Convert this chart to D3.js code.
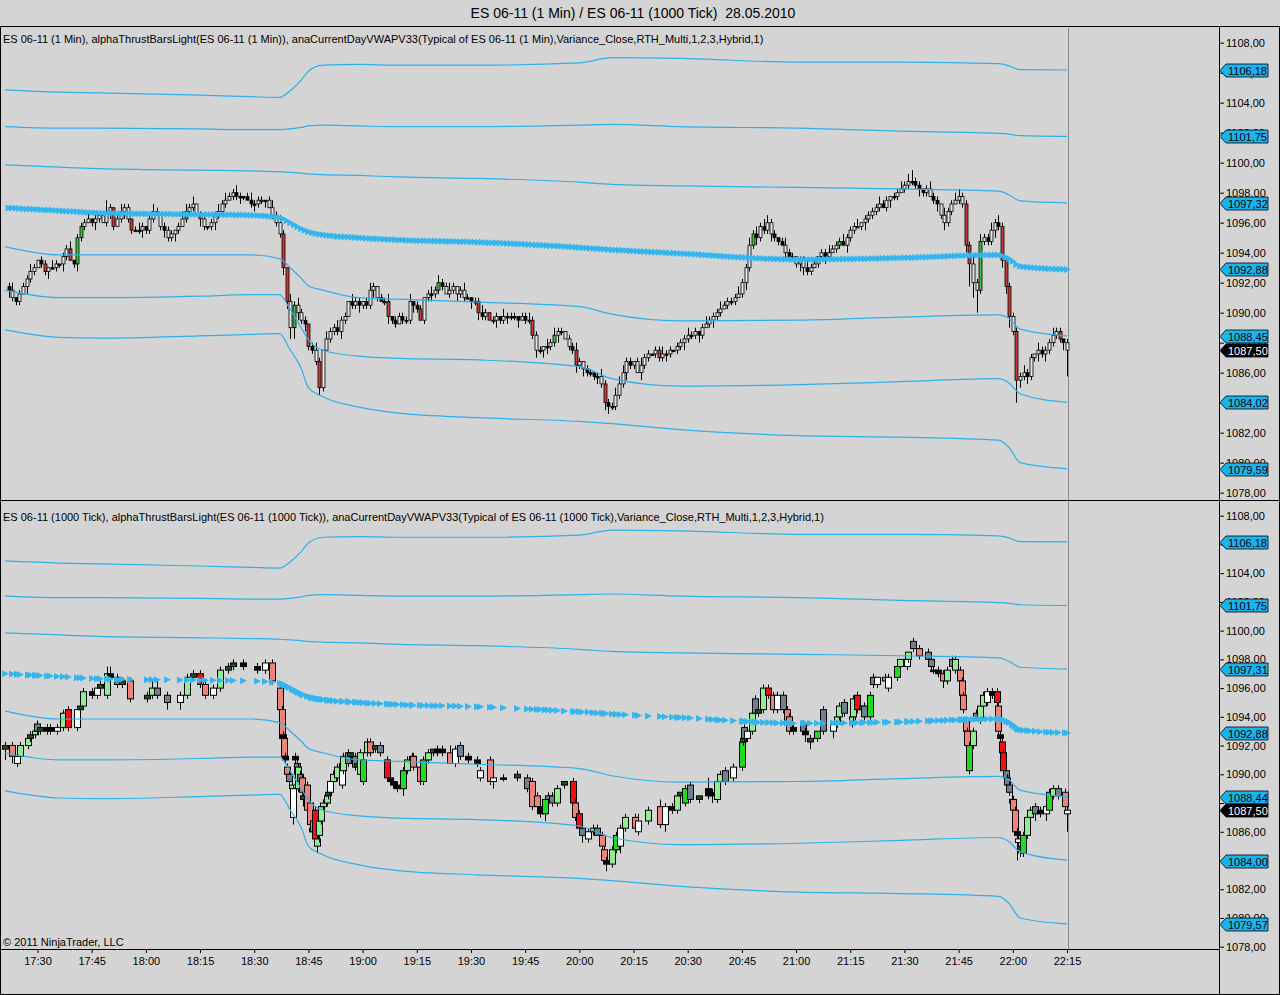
<!DOCTYPE html>
<html>
<head>
<meta charset="utf-8">
<script src="https://cdn.jsdelivr.net/npm/d3@7"></script>
<style>
  body { margin: 0; background: #d4d4d4; overflow: hidden; }
  svg { display: block; }
  svg text { font-family: "Liberation Sans", Arial, sans-serif; }
</style>
</head>
<body>
<div id="chart"></div>
<script>
// ---- chart texts ----
const titleText = "ES 06-11 (1 Min) / ES 06-11 (1000 Tick)  28.05.2010";
const topLabel = "ES 06-11 (1 Min), alphaThrustBarsLight(ES 06-11 (1 Min)), anaCurrentDayVWAPV33(Typical of ES 06-11 (1 Min),Variance_Close,RTH_Multi,1,2,3,Hybrid,1)";
const bottomLabel = "ES 06-11 (1000 Tick), alphaThrustBarsLight(ES 06-11 (1000 Tick)), anaCurrentDayVWAPV33(Typical of ES 06-11 (1000 Tick),Variance_Close,RTH_Multi,1,2,3,Hybrid,1)";
const copyright = "© 2011 NinjaTrader, LLC";

// ---- axis ticks ----
const timeTicks = ["17:30", "17:45", "18:00", "18:15", "18:30", "18:45", "19:00", "19:15", "19:30", "19:45",
  "20:00", "20:15", "20:30", "20:45", "21:00", "21:15", "21:30", "21:45", "22:00", "22:15"];
const priceTicks = [1078, 1080, 1082, 1084, 1086, 1088, 1090, 1092, 1094, 1096, 1098, 1100, 1102, 1104, 1106, 1108];

// ---- 1 minute bars (one close per minute from 17:22) ----
const minuteStart = "17:22";
const minuteFirstOpen = 1091.75;
const minuteClose = [
  1091.5, 1091.0, 1090.75, 1091.25, 1091.75, 1092.25, 1092.75, 1093.0, 1093.5, 1093.25,
  1092.75, 1093.0, 1093.0, 1093.25, 1093.25, 1093.75, 1094.25, 1093.5, 1093.25, 1095.0,
  1095.75, 1096.0, 1096.25, 1096.0, 1096.25, 1096.5, 1096.0, 1096.75, 1097.0, 1095.75,
  1096.25, 1096.75, 1097.0, 1096.25, 1095.5, 1095.5, 1095.5, 1095.75, 1095.5, 1096.25,
  1096.75, 1096.5, 1095.75, 1095.5, 1095.0, 1095.25, 1095.5, 1095.75, 1096.25, 1096.75,
  1097.0, 1097.25, 1096.5, 1096.25, 1095.75, 1095.75, 1096.0, 1096.5, 1096.75, 1097.25,
  1097.5, 1097.75, 1098.0, 1097.75, 1097.75, 1097.75, 1097.5, 1097.25, 1097.25, 1097.5,
  1097.5, 1097.5, 1097.0, 1096.5, 1096.0, 1095.25, 1093.0, 1090.75, 1089.0, 1090.5,
  1090.0, 1089.5, 1089.25, 1087.75, 1087.5, 1086.75, 1085.0, 1087.5, 1088.25, 1088.75,
  1089.0, 1088.75, 1089.5, 1089.75, 1090.75, 1090.5, 1090.75, 1090.5, 1090.75, 1090.5,
  1091.5, 1091.75, 1091.0, 1090.75, 1090.75, 1089.75, 1089.5, 1089.25, 1089.75, 1089.5,
  1089.5, 1090.75, 1090.5, 1090.25, 1089.5, 1091.0, 1091.25, 1091.25, 1091.5, 1092.0,
  1091.75, 1091.25, 1091.5, 1091.75, 1091.25, 1091.5, 1091.0, 1091.0, 1090.75, 1090.75,
  1090.0, 1089.75, 1090.0, 1089.5, 1089.5, 1089.75, 1089.5, 1089.75, 1089.75, 1089.75,
  1089.75, 1089.5, 1089.75, 1089.5, 1089.5, 1088.5, 1087.5, 1087.5, 1087.75, 1087.75,
  1088.0, 1088.5, 1088.75, 1088.75, 1088.25, 1087.75, 1087.5, 1086.5, 1086.75, 1086.25,
  1086.0, 1086.0, 1085.75, 1085.75, 1085.25, 1084.0, 1083.75, 1083.75, 1084.5, 1085.25,
  1086.0, 1086.75, 1086.5, 1086.75, 1086.0, 1086.5, 1087.0, 1087.25, 1087.25, 1087.5,
  1087.0, 1087.25, 1087.25, 1087.5, 1087.5, 1087.75, 1088.0, 1088.25, 1088.5, 1088.5,
  1088.75, 1088.5, 1089.0, 1089.25, 1089.5, 1089.75, 1090.0, 1090.25, 1090.5, 1090.75,
  1090.75, 1091.0, 1091.25, 1092.0, 1093.0, 1094.5, 1095.25, 1095.0, 1095.75, 1095.5,
  1096.0, 1095.25, 1095.0, 1094.75, 1094.5, 1094.0, 1093.75, 1093.75, 1093.25, 1093.5,
  1093.0, 1092.75, 1093.0, 1093.25, 1093.75, 1094.0, 1093.75, 1094.0, 1094.25, 1094.5,
  1094.75, 1094.5, 1095.0, 1095.5, 1095.75, 1095.75, 1096.0, 1096.25, 1096.5, 1096.75,
  1097.0, 1097.25, 1097.0, 1097.5, 1097.75, 1097.75, 1098.0, 1098.25, 1098.5, 1098.75,
  1098.75, 1098.5, 1098.25, 1098.0, 1098.25, 1097.75, 1097.5, 1097.25, 1096.5, 1096.0,
  1096.75, 1097.25, 1097.5, 1097.75, 1097.25, 1094.5, 1093.25, 1092.0, 1091.5, 1094.75,
  1095.0, 1094.75, 1095.5, 1096.0, 1095.75, 1093.5, 1091.75, 1089.75, 1088.75, 1085.5,
  1085.75, 1086.0, 1085.75, 1087.0, 1087.25, 1087.5, 1087.25, 1087.5, 1088.0, 1088.5,
  1088.75, 1088.25, 1088.0, 1087.5
];
// wick lengths beyond the body, in ticks of 0.25, one digit per minute
const minuteUpperWick = [
  "1201112101", "1021011201", "1120101310", "1211012101", "2101110122", "1201101121",
  "2112101211", "1012121021", "2110121021", "1211021101", "2101120111", "1201101212",
  "1121012101", "1210110211", "1011211102", "1211011210", "1101211122", "2110121101",
  "1211011121", "1012111211", "1121121212", "2110121101", "1211011211", "1211120111",
  "1211011212", "3110121102", "1122111212", "1121211111", "1211021112", "1101"
].join("");
const minuteLowerWick = [
  "2111021101", "1201121012", "1101210121", "0121101211", "1012112101", "1102111211",
  "1011210121", "1201112233", "2121112101", "1121011211", "1210121101", "1121011211",
  "1011211021", "2110121121", "1201112122", "1121011212", "1112122111", "1211021101",
  "1121011211", "1210121101", "1101211211", "1211021112", "2110112101", "1021101211",
  "1101211011", "1121101212", "1101126461", "1112122316", "2121121211", "1127"
].join("");
const minuteRedBars = [10, 17, 29, 34, 53, 76, 77, 83, 86, 105, 114, 130, 133, 145, 157, 165, 180, 265, 266, 275, 276, 277, 279, 291];
const minuteGreenBars = [19, 20, 49, 79, 119, 151, 206, 230, 269];

// ---- 1000 tick bars: time, open, high, low, close, colour code ----
const tickBars = [
  ["17:21:00", 1091.75, 1092.25, 1091.0, 1092.0, "dg"],
  ["17:22:56", 1092.0, 1092.25, 1090.75, 1091.25, "s"],
  ["17:24:19", 1090.75, 1091.5, 1090.5, 1091.25, "w"],
  ["17:25:10", 1091.25, 1092.25, 1091.0, 1092.0, "lg"],
  ["17:27:22", 1092.0, 1092.75, 1091.75, 1092.5, "lg"],
  ["17:27:55", 1092.5, 1093.0, 1092.25, 1092.75, "dg"],
  ["17:29:19", 1092.75, 1093.25, 1092.5, 1093.0, "lg"],
  ["17:29:52", 1093.5, 1093.75, 1092.75, 1093.0, "gy"],
  ["17:30:41", 1093.0, 1093.5, 1092.75, 1093.25, "dg"],
  ["17:32:38", 1093.25, 1093.5, 1092.75, 1093.0, "k"],
  ["17:33:28", 1093.25, 1093.5, 1092.75, 1093.0, "k"],
  ["17:35:24", 1093.0, 1093.5, 1092.75, 1093.25, "w"],
  ["17:37:04", 1093.25, 1094.5, 1093.0, 1094.25, "lg"],
  ["17:38:27", 1094.5, 1094.75, 1093.0, 1093.25, "r"],
  ["17:40:56", 1093.25, 1094.75, 1093.0, 1094.5, "w"],
  ["17:41:46", 1094.5, 1094.75, 1094.25, 1094.75, "dg"],
  ["17:42:36", 1094.75, 1096.0, 1094.5, 1095.75, "lg"],
  ["17:45:05", 1095.75, 1096.0, 1095.25, 1095.5, "k"],
  ["17:46:28", 1095.5, 1096.25, 1095.25, 1096.0, "w"],
  ["17:47:18", 1096.0, 1096.5, 1095.75, 1096.25, "dg"],
  ["17:49:14", 1095.5, 1097.5, 1095.25, 1097.0, "lg"],
  ["17:50:04", 1097.0, 1097.5, 1096.5, 1096.75, "k"],
  ["17:52:01", 1096.75, 1097.0, 1096.0, 1096.25, "gy"],
  ["17:53:24", 1096.25, 1096.75, 1096.0, 1096.5, "dg"],
  ["17:55:37", 1096.5, 1096.75, 1095.0, 1095.25, "s"],
  ["18:00:19", 1095.25, 1095.75, 1095.0, 1095.5, "dg"],
  ["18:01:42", 1095.5, 1096.5, 1095.25, 1096.0, "lg"],
  ["18:03:05", 1096.0, 1096.5, 1095.25, 1095.5, "gy"],
  ["18:05:51", 1095.5, 1095.75, 1094.5, 1095.0, "gy"],
  ["18:09:27", 1095.0, 1095.75, 1094.5, 1095.5, "w"],
  ["18:11:23", 1095.5, 1097.0, 1095.25, 1096.75, "lg"],
  ["18:13:03", 1096.75, 1097.25, 1096.5, 1097.0, "dg"],
  ["18:14:59", 1097.0, 1097.25, 1096.0, 1096.25, "r"],
  ["18:16:23", 1096.25, 1096.5, 1095.25, 1095.5, "s"],
  ["18:18:35", 1095.5, 1096.25, 1095.25, 1096.0, "w"],
  ["18:20:32", 1096.0, 1097.5, 1095.75, 1097.25, "lg"],
  ["18:22:45", 1097.25, 1097.75, 1097.0, 1097.5, "dg"],
  ["18:24:08", 1097.5, 1098.0, 1097.25, 1097.75, "dg"],
  ["18:26:54", 1097.75, 1098.0, 1097.25, 1097.5, "k"],
  ["18:30:47", 1097.5, 1097.75, 1097.0, 1097.25, "k"],
  ["18:32:59", 1097.25, 1098.0, 1097.0, 1097.75, "w"],
  ["18:34:56", 1097.75, 1098.0, 1096.25, 1096.5, "s"],
  ["18:37:09", 1096.0, 1096.25, 1094.25, 1094.5, "s"],
  ["18:37:42", 1094.5, 1094.75, 1092.25, 1092.5, "s"],
  ["18:37:59", 1092.75, 1093.0, 1092.25, 1092.5, "k"],
  ["18:38:15", 1092.5, 1092.75, 1091.0, 1091.25, "s"],
  ["18:38:32", 1091.25, 1091.5, 1090.75, 1091.0, "k"],
  ["18:39:05", 1090.5, 1090.75, 1089.75, 1090.0, "s"],
  ["18:39:38", 1090.0, 1090.25, 1089.25, 1089.5, "gy"],
  ["18:40:28", 1089.0, 1089.5, 1088.5, 1089.25, "lg"],
  ["18:40:45", 1087.0, 1089.25, 1086.5, 1089.0, "w"],
  ["18:41:18", 1091.25, 1091.5, 1090.5, 1091.0, "k"],
  ["18:41:51", 1090.75, 1091.0, 1089.75, 1090.0, "gy"],
  ["18:42:08", 1089.0, 1090.75, 1088.75, 1090.5, "lg"],
  ["18:42:41", 1090.0, 1090.25, 1089.25, 1089.5, "gy"],
  ["18:43:14", 1089.75, 1090.0, 1088.5, 1088.75, "s"],
  ["18:43:31", 1088.5, 1088.75, 1087.75, 1088.25, "dg"],
  ["18:44:37", 1089.25, 1089.5, 1087.25, 1087.5, "s"],
  ["18:45:27", 1088.0, 1088.25, 1086.0, 1086.5, "s"],
  ["18:46:00", 1086.25, 1086.5, 1085.75, 1086.0, "k"],
  ["18:46:17", 1086.75, 1087.0, 1085.75, 1086.0, "s"],
  ["18:46:50", 1087.5, 1087.75, 1085.0, 1085.5, "r"],
  ["18:47:23", 1085.0, 1085.75, 1084.5, 1085.5, "lg"],
  ["18:47:56", 1085.75, 1087.0, 1085.25, 1086.75, "lg"],
  ["18:48:30", 1086.75, 1088.0, 1086.5, 1087.75, "lg"],
  ["18:49:03", 1087.75, 1088.25, 1087.5, 1088.0, "lg"],
  ["18:50:10", 1088.0, 1088.75, 1087.75, 1088.5, "lg"],
  ["18:50:26", 1088.5, 1089.0, 1088.25, 1088.75, "dg"],
  ["18:50:59", 1088.75, 1089.75, 1088.5, 1089.5, "w"],
  ["18:51:49", 1089.5, 1090.25, 1089.0, 1090.0, "lg"],
  ["18:52:56", 1089.75, 1090.75, 1089.5, 1090.5, "lg"],
  ["18:54:19", 1089.25, 1091.0, 1089.0, 1090.75, "w"],
  ["18:54:35", 1090.25, 1091.5, 1090.0, 1091.25, "lg"],
  ["18:55:58", 1091.5, 1091.75, 1090.5, 1090.75, "gy"],
  ["18:56:32", 1091.25, 1091.5, 1091.0, 1091.5, "dg"],
  ["18:57:55", 1091.25, 1091.5, 1090.25, 1090.5, "gy"],
  ["18:58:28", 1090.5, 1090.75, 1090.25, 1090.75, "dg"],
  ["18:59:17", 1090.0, 1091.75, 1089.75, 1091.5, "lg"],
  ["19:00:07", 1089.5, 1091.25, 1089.25, 1091.0, "g"],
  ["19:01:14", 1091.5, 1092.5, 1091.25, 1092.25, "lg"],
  ["19:02:04", 1092.25, 1092.5, 1091.25, 1091.5, "s"],
  ["19:03:26", 1091.75, 1092.0, 1091.5, 1092.0, "dg"],
  ["19:04:50", 1092.0, 1092.25, 1091.25, 1091.5, "gy"],
  ["19:06:46", 1091.0, 1091.25, 1089.5, 1089.75, "r"],
  ["19:07:36", 1089.75, 1090.0, 1089.25, 1089.5, "k"],
  ["19:08:26", 1089.5, 1089.75, 1089.0, 1089.25, "k"],
  ["19:09:32", 1089.25, 1089.5, 1088.75, 1089.0, "k"],
  ["19:11:12", 1089.0, 1090.5, 1088.5, 1090.25, "g"],
  ["19:12:19", 1090.25, 1091.25, 1090.0, 1091.0, "lg"],
  ["19:13:41", 1091.0, 1091.5, 1090.75, 1091.25, "lg"],
  ["19:13:58", 1091.25, 1091.5, 1090.25, 1090.5, "s"],
  ["19:15:55", 1090.5, 1090.75, 1089.25, 1089.5, "s"],
  ["19:16:44", 1089.5, 1091.25, 1089.25, 1091.0, "g"],
  ["19:18:07", 1091.0, 1091.75, 1090.75, 1091.5, "lg"],
  ["19:19:31", 1091.5, 1091.75, 1091.25, 1091.75, "dg"],
  ["19:20:37", 1091.75, 1092.0, 1091.25, 1091.5, "k"],
  ["19:22:00", 1091.75, 1092.0, 1091.25, 1091.5, "k"],
  ["19:24:13", 1091.5, 1092.0, 1090.75, 1090.75, "s"],
  ["19:25:36", 1090.75, 1092.0, 1090.5, 1091.75, "w"],
  ["19:26:59", 1092.0, 1092.25, 1091.0, 1091.25, "gy"],
  ["19:29:12", 1091.25, 1091.5, 1090.75, 1091.0, "k"],
  ["19:31:41", 1091.0, 1091.25, 1090.5, 1090.75, "k"],
  ["19:32:31", 1089.75, 1090.5, 1089.5, 1090.25, "w"],
  ["19:35:17", 1091.0, 1091.25, 1089.25, 1089.5, "s"],
  ["19:36:07", 1089.5, 1090.0, 1089.0, 1089.75, "w"],
  ["19:38:53", 1089.75, 1090.0, 1089.5, 1089.75, "k"],
  ["19:42:46", 1089.75, 1090.25, 1089.5, 1090.0, "dg"],
  ["19:45:32", 1089.75, 1090.0, 1088.75, 1089.0, "gy"],
  ["19:46:55", 1089.5, 1089.75, 1087.5, 1087.75, "s"],
  ["19:48:18", 1088.5, 1088.75, 1087.5, 1087.75, "s"],
  ["19:49:08", 1087.75, 1088.0, 1087.0, 1087.25, "k"],
  ["19:50:31", 1087.25, 1088.5, 1086.75, 1088.25, "g"],
  ["19:51:21", 1088.5, 1088.75, 1088.0, 1088.25, "gy"],
  ["19:52:28", 1088.5, 1088.75, 1087.75, 1088.0, "gy"],
  ["19:53:50", 1088.0, 1089.25, 1087.75, 1089.0, "lg"],
  ["19:55:47", 1089.25, 1089.5, 1089.0, 1089.5, "dg"],
  ["19:58:16", 1089.5, 1089.75, 1088.0, 1088.0, "r"],
  ["19:58:49", 1088.0, 1088.25, 1086.75, 1087.0, "s"],
  ["19:59:56", 1087.25, 1087.5, 1086.0, 1086.25, "r"],
  ["20:00:46", 1086.25, 1086.5, 1085.25, 1085.75, "gy"],
  ["20:02:25", 1085.5, 1086.25, 1085.25, 1086.0, "w"],
  ["20:03:48", 1086.0, 1086.5, 1085.75, 1086.25, "lg"],
  ["20:04:55", 1086.25, 1086.5, 1085.75, 1085.75, "gy"],
  ["20:06:18", 1085.75, 1086.0, 1084.75, 1085.0, "s"],
  ["20:06:51", 1084.75, 1085.0, 1083.75, 1084.0, "s"],
  ["20:07:24", 1084.0, 1084.25, 1083.25, 1083.75, "k"],
  ["20:09:04", 1083.75, 1085.0, 1083.5, 1084.75, "lg"],
  ["20:10:10", 1084.75, 1086.0, 1084.5, 1085.75, "g"],
  ["20:11:17", 1085.0, 1086.5, 1084.5, 1086.25, "w"],
  ["20:12:40", 1086.25, 1087.25, 1086.0, 1087.0, "lg"],
  ["20:15:26", 1087.0, 1087.25, 1086.0, 1086.25, "s"],
  ["20:16:16", 1086.0, 1087.25, 1085.75, 1086.75, "w"],
  ["20:19:02", 1086.75, 1087.75, 1086.5, 1087.5, "lg"],
  ["20:22:22", 1087.75, 1088.25, 1086.25, 1086.5, "s"],
  ["20:23:44", 1086.5, 1088.0, 1086.0, 1087.75, "w"],
  ["20:25:41", 1087.75, 1088.0, 1087.25, 1087.5, "k"],
  ["20:27:04", 1087.5, 1088.75, 1087.25, 1088.5, "lg"],
  ["20:27:53", 1088.5, 1088.75, 1088.25, 1088.75, "dg"],
  ["20:29:17", 1088.0, 1089.25, 1087.75, 1089.0, "g"],
  ["20:30:40", 1089.25, 1089.5, 1088.0, 1088.25, "gy"],
  ["20:33:09", 1088.25, 1088.5, 1088.0, 1088.5, "dg"],
  ["20:35:39", 1089.0, 1089.75, 1088.25, 1088.5, "k"],
  ["20:36:46", 1088.75, 1089.0, 1088.0, 1088.5, "k"],
  ["20:38:08", 1088.25, 1089.75, 1088.0, 1089.5, "lg"],
  ["20:38:58", 1089.5, 1090.25, 1089.25, 1090.0, "lg"],
  ["20:40:21", 1090.25, 1090.5, 1089.25, 1089.5, "gy"],
  ["20:42:34", 1089.75, 1090.75, 1089.5, 1090.5, "w"],
  ["20:45:04", 1090.5, 1092.5, 1090.25, 1092.25, "g"],
  ["20:45:20", 1092.25, 1092.75, 1092.0, 1092.5, "dg"],
  ["20:45:37", 1093.25, 1093.5, 1092.25, 1092.5, "gy"],
  ["20:46:27", 1092.5, 1093.25, 1092.25, 1093.0, "w"],
  ["20:47:50", 1093.0, 1094.5, 1092.75, 1094.25, "lg"],
  ["20:48:40", 1095.25, 1095.5, 1094.0, 1094.25, "gy"],
  ["20:49:29", 1094.25, 1094.75, 1094.0, 1094.5, "dg"],
  ["20:50:53", 1094.5, 1096.25, 1094.25, 1096.0, "lg"],
  ["20:52:16", 1096.0, 1096.25, 1095.25, 1095.5, "r"],
  ["20:53:38", 1095.5, 1095.75, 1094.25, 1094.5, "s"],
  ["20:54:45", 1094.5, 1095.75, 1094.25, 1095.5, "w"],
  ["20:56:25", 1095.5, 1095.75, 1094.25, 1094.5, "gy"],
  ["20:57:31", 1094.5, 1094.75, 1093.75, 1093.75, "s"],
  ["20:58:04", 1094.0, 1094.25, 1092.75, 1093.0, "s"],
  ["20:59:11", 1093.25, 1093.5, 1092.75, 1093.0, "k"],
  ["21:01:57", 1093.5, 1093.75, 1092.75, 1093.0, "gy"],
  ["21:02:30", 1093.0, 1093.25, 1092.25, 1092.75, "k"],
  ["21:03:53", 1092.5, 1092.75, 1091.75, 1092.25, "dg"],
  ["21:05:50", 1092.5, 1093.0, 1092.25, 1093.0, "g"],
  ["21:07:29", 1093.0, 1094.75, 1092.75, 1094.5, "gy"],
  ["21:10:16", 1093.0, 1093.5, 1092.5, 1093.5, "w"],
  ["21:11:22", 1093.5, 1094.25, 1093.25, 1094.0, "lg"],
  ["21:11:55", 1094.0, 1095.0, 1093.75, 1094.75, "lg"],
  ["21:13:18", 1095.0, 1095.25, 1094.0, 1094.25, "gy"],
  ["21:15:31", 1093.5, 1094.25, 1093.25, 1094.0, "lg"],
  ["21:15:48", 1094.0, 1095.5, 1093.5, 1095.25, "lg"],
  ["21:16:54", 1095.5, 1095.75, 1094.25, 1094.5, "r"],
  ["21:18:17", 1094.5, 1094.75, 1094.25, 1094.75, "dg"],
  ["21:18:50", 1094.75, 1095.0, 1093.75, 1094.0, "gy"],
  ["21:20:30", 1094.0, 1095.75, 1093.75, 1095.5, "g"],
  ["21:21:20", 1096.75, 1097.0, 1096.0, 1096.25, "gy"],
  ["21:22:26", 1096.25, 1096.75, 1096.0, 1096.75, "w"],
  ["21:24:39", 1096.75, 1097.0, 1096.25, 1096.5, "s"],
  ["21:25:29", 1096.0, 1097.0, 1095.75, 1096.75, "w"],
  ["21:27:59", 1096.75, 1097.75, 1096.5, 1097.5, "g"],
  ["21:28:49", 1097.5, 1098.0, 1097.25, 1098.0, "lg"],
  ["21:30:45", 1097.5, 1098.0, 1097.25, 1098.0, "w"],
  ["21:31:01", 1098.0, 1098.5, 1097.75, 1098.5, "lg"],
  ["21:32:25", 1099.25, 1099.5, 1098.5, 1098.75, "gy"],
  ["21:34:04", 1098.75, 1099.0, 1098.0, 1098.25, "s"],
  ["21:36:34", 1098.5, 1098.75, 1097.75, 1098.0, "gy"],
  ["21:37:23", 1098.0, 1098.25, 1097.25, 1097.5, "gy"],
  ["21:37:56", 1097.25, 1097.5, 1097.0, 1097.25, "dg"],
  ["21:39:20", 1097.25, 1097.5, 1096.75, 1097.0, "k"],
  ["21:40:43", 1097.0, 1097.25, 1096.0, 1096.5, "s"],
  ["21:41:49", 1096.5, 1097.5, 1096.25, 1097.25, "lg"],
  ["21:43:12", 1098.0, 1098.25, 1097.25, 1097.5, "gy"],
  ["21:44:02", 1097.25, 1098.25, 1097.0, 1098.0, "lg"],
  ["21:45:25", 1097.25, 1097.5, 1096.5, 1096.5, "s"],
  ["21:45:58", 1096.5, 1096.75, 1095.25, 1095.5, "s"],
  ["21:46:15", 1095.5, 1095.75, 1094.25, 1094.5, "s"],
  ["21:47:05", 1093.75, 1094.0, 1092.5, 1093.0, "s"],
  ["21:47:22", 1093.0, 1093.25, 1091.75, 1092.0, "s"],
  ["21:47:55", 1090.25, 1092.25, 1090.0, 1092.0, "g"],
  ["21:49:01", 1092.0, 1093.25, 1091.75, 1093.0, "lg"],
  ["21:49:51", 1094.25, 1094.5, 1093.75, 1093.75, "gy"],
  ["21:50:58", 1093.75, 1095.0, 1093.5, 1094.75, "lg"],
  ["21:51:47", 1094.75, 1095.75, 1094.5, 1095.5, "lg"],
  ["21:52:53", 1095.0, 1096.0, 1094.75, 1095.75, "w"],
  ["21:54:17", 1095.75, 1096.0, 1095.25, 1095.5, "k"],
  ["21:55:40", 1095.75, 1096.0, 1094.75, 1095.0, "r"],
  ["21:55:56", 1094.75, 1095.0, 1092.75, 1093.0, "s"],
  ["21:56:29", 1092.75, 1093.0, 1092.25, 1092.5, "k"],
  ["21:57:03", 1092.25, 1092.5, 1091.25, 1091.5, "r"],
  ["21:57:19", 1091.5, 1091.75, 1090.0, 1090.25, "r"],
  ["21:58:09", 1090.25, 1090.5, 1089.5, 1089.75, "gy"],
  ["21:58:26", 1089.75, 1090.0, 1089.0, 1089.25, "gy"],
  ["21:58:59", 1089.25, 1089.5, 1088.5, 1088.75, "gy"],
  ["21:59:49", 1088.25, 1088.75, 1087.5, 1088.0, "lg"],
  ["22:00:05", 1088.25, 1088.5, 1087.25, 1087.5, "s"],
  ["22:00:38", 1087.5, 1087.75, 1086.0, 1086.0, "s"],
  ["22:01:12", 1086.0, 1086.25, 1084.0, 1085.75, "k"],
  ["22:01:28", 1085.25, 1085.75, 1084.5, 1085.5, "w"],
  ["22:02:02", 1084.75, 1085.25, 1084.25, 1085.0, "dg"],
  ["22:02:52", 1084.5, 1086.0, 1084.25, 1085.75, "g"],
  ["22:03:58", 1085.75, 1087.25, 1085.5, 1087.0, "lg"],
  ["22:04:48", 1087.0, 1087.75, 1086.75, 1087.5, "lg"],
  ["22:06:11", 1087.75, 1088.0, 1086.75, 1087.25, "gy"],
  ["22:07:34", 1087.5, 1087.75, 1087.0, 1087.25, "k"],
  ["22:09:14", 1087.25, 1088.0, 1086.75, 1087.75, "w"],
  ["22:10:04", 1087.5, 1089.0, 1087.25, 1088.75, "g"],
  ["22:11:10", 1088.5, 1089.25, 1088.25, 1089.0, "lg"],
  ["22:12:33", 1089.0, 1089.25, 1088.25, 1088.5, "gy"],
  ["22:14:29", 1088.75, 1089.0, 1087.5, 1087.75, "s"],
  ["22:15:02", 1087.25, 1087.75, 1086.0, 1087.5, "w"]
];

// ---- VWAP and deviation bands (shared by both panels) ----
const bandTimes = ["17:21", "17:36", "17:47", "18:15", "18:29", "18:37", "18:40", "18:43", "18:45", "18:49", "18:59",
  "19:10", "19:32", "20:00", "20:09", "20:28", "21:01", "21:29", "21:56", "21:59", "22:02", "22:15"];
const bandPlus3 = [1104.85, 1104.7, 1104.65, 1104.5, 1104.4, 1104.35, 1104.8, 1105.5, 1106.1, 1106.5, 1106.55,
  1106.5, 1106.5, 1106.65, 1107.0, 1106.95, 1106.7, 1106.7, 1106.6, 1106.45, 1106.2, 1106.18];
const bandPlus2 = [1102.4, 1102.3, 1102.3, 1102.25, 1102.2, 1102.2, 1102.25, 1102.35, 1102.45, 1102.5, 1102.45,
  1102.4, 1102.4, 1102.5, 1102.55, 1102.4, 1102.3, 1102.1, 1101.95, 1101.9, 1101.8, 1101.75];
const bandPlus1 = [1099.85, 1099.7, 1099.6, 1099.5, 1099.45, 1099.4, 1099.35, 1099.3, 1099.25, 1099.2, 1099.15,
  1099.05, 1098.95, 1098.7, 1098.55, 1098.45, 1098.35, 1098.25, 1098.1, 1097.85, 1097.45, 1097.32];
const vwapLine = [1097.0, 1096.8, 1096.65, 1096.55, 1096.5, 1096.35, 1096.0, 1095.6, 1095.4, 1095.2, 1095.0,
  1094.85, 1094.7, 1094.35, 1094.2, 1093.95, 1093.55, 1093.65, 1093.85, 1093.6, 1093.1, 1092.88];
const bandMinus1 = [1094.4, 1093.85, 1093.85, 1093.85, 1093.85, 1093.6, 1093.0, 1092.3, 1091.8, 1091.5, 1091.0,
  1090.9, 1090.7, 1090.4, 1089.9, 1089.45, 1089.5, 1089.7, 1089.85, 1089.6, 1088.9, 1088.45];
const bandMinus2 = [1091.5, 1091.0, 1091.0, 1091.1, 1091.2, 1091.2, 1090.2, 1089.0, 1088.2, 1087.5, 1087.1,
  1086.95, 1086.85, 1086.4, 1085.6, 1085.1, 1085.2, 1085.4, 1085.6, 1085.3, 1084.6, 1084.02];
const bandMinus3 = [1088.85, 1088.35, 1088.3, 1088.45, 1088.55, 1088.6, 1087.5, 1086.3, 1085.0, 1084.4, 1083.7,
  1083.3, 1083.0, 1082.75, 1082.6, 1082.2, 1081.8, 1081.7, 1081.5, 1081.0, 1080.0, 1079.59];

// ---- price markers on the right axis ----
const topTags = [1106.18, 1101.75, 1097.32, 1092.88, 1088.45, 1084.02, 1079.59];
const bottomTags = [1106.18, 1101.75, 1097.31, 1092.88, 1088.44, 1084.00, 1079.57];
const lastPrice = 1087.50;

// ---- colours ----
const tickColors = { lg: "#90ee90", g: "#1fdc1f", s: "#f08377", r: "#f01010", w: "#f8ffff", k: "#000000", gy: "#708090", dg: "#1d521d" };
const bandColor = "#2eb0e8";
const tagColor = "#1ab3ee";

// ---- layout ----
const width = 1280, height = 995;
const axisX = 1219;
const panels = [
  { top: 27, bottom: 500, yRange: [492.7, 42.7], label: topLabel, labelY: 43 },
  { top: 500, bottom: 949, yRange: [946.7, 515.7], label: bottomLabel, labelY: 521 }
];

const parseHM = d3.timeParse("%H:%M");
const parseHMS = d3.timeParse("%H:%M:%S");
const fmtPrice = v => d3.format(".2f")(v).replace(".", ",");

const x = d3.scaleTime().domain([parseHM("17:30"), parseHM("22:15")]).range([37.5, 1067]);

const svg = d3.select("#chart").append("svg").attr("width", width).attr("height", height);
svg.append("rect").attr("width", width).attr("height", height).attr("fill", "#d4d4d4");

// title (keeps the double space before the date)
svg.append("text").attr("x", 633).attr("y", 18).attr("text-anchor", "middle")
  .attr("font-size", 14).attr("fill", "#000").style("white-space", "pre").text(titleText);

// build bar data
const minuteT0 = parseHM(minuteStart);
const minuteBars = minuteClose.map((c, i) => {
  const o = i ? minuteClose[i - 1] : minuteFirstOpen;
  let fill;
  if (minuteRedBars.includes(i)) fill = "#c83a3a";
  else if (minuteGreenBars.includes(i)) fill = "#3cbf3c";
  else if (c < o && o - c <= 0.25) fill = "#000";
  else if (c === o) fill = "#000";
  else fill = "#e6e6e6";
  return {
    t: d3.timeMinute.offset(minuteT0, i), o, c,
    h: Math.max(o, c) + (+minuteUpperWick[i]) * 0.25,
    l: Math.min(o, c) - (+minuteLowerWick[i]) * 0.25,
    fill
  };
});
const tickData = tickBars.map(d => ({ t: parseHMS(d[0]), o: d[1], h: d[2], l: d[3], c: d[4], fill: tickColors[d[5]] }));

const bandSeries = [bandPlus3, bandPlus2, bandPlus1, bandMinus1, bandMinus2, bandMinus3];
const bandT = bandTimes.map(parseHM);

// find y on a drawn path for a given x
function yOnPath(node, xTarget) {
  let lo = 0, hi = node.getTotalLength();
  for (let k = 0; k < 28; k++) {
    const mid = (lo + hi) / 2;
    if (node.getPointAtLength(mid).x < xTarget) lo = mid; else hi = mid;
  }
  return node.getPointAtLength((lo + hi) / 2).y;
}

panels.forEach((p, pi) => {
  const y = d3.scaleLinear().domain([1078, 1108]).range(p.yRange);
  const clipId = "clip" + pi;
  svg.append("clipPath").attr("id", clipId).append("rect")
    .attr("x", 1).attr("y", p.top + 1).attr("width", axisX - 1).attr("height", p.bottom - p.top - 1);
  const g = svg.append("g").attr("clip-path", `url(#${clipId})`);

  // current-bar vertical line
  g.append("line").attr("x1", x(parseHM("22:15")) + 1.5).attr("x2", x(parseHM("22:15")) + 1.5)
    .attr("y1", p.top).attr("y2", p.bottom).attr("stroke", "#8a8a8a").attr("stroke-width", 1);

  // candles
  const bars = pi === 0 ? minuteBars : tickData;
  const bodyW = pi === 0 ? 3 : 6;
  const cg = g.append("g");
  const bar = cg.selectAll("g.bar").data(bars).join("g").attr("class", "bar");
  bar.append("line")
    .attr("x1", d => Math.round(x(d.t)) + 0.5).attr("x2", d => Math.round(x(d.t)) + 0.5)
    .attr("y1", d => y(d.h)).attr("y2", d => y(d.l))
    .attr("stroke", "#000").attr("stroke-width", 1);
  bar.append("rect")
    .attr("x", d => Math.round(x(d.t)) + 0.5 - bodyW / 2)
    .attr("y", d => y(Math.max(d.o, d.c)))
    .attr("width", bodyW)
    .attr("height", d => Math.max(1.5, Math.abs(y(d.o) - y(d.c))))
    .attr("fill", d => d.fill)
    .attr("stroke", "#000").attr("stroke-width", pi === 0 ? 0.8 : 1);

  // deviation bands
  const line = d3.line().x((d, i) => x(bandT[i])).y(d => y(d)).curve(d3.curveMonotoneX);
  g.selectAll("path.band").data(bandSeries).join("path").attr("class", "band")
    .attr("d", line).attr("fill", "none").attr("stroke", bandColor).attr("stroke-width", 1.2);

  // VWAP as right-pointing markers at each bar
  const vwapPath = g.append("path").attr("d", line(vwapLine)).attr("fill", "none").attr("stroke", "none");
  const node = vwapPath.node();
  const xMin = x(bandT[0]), xMax = x(bandT[bandT.length - 1]);
  g.append("g").selectAll("path").data(bars).join("path")
    .attr("transform", d => {
      const xx = Math.max(xMin, Math.min(xMax, x(d.t)));
      return `translate(${x(d.t)},${yOnPath(node, xx)})`;
    })
    .attr("d", "M-3,-3.5L4,0L-3,3.5Z")
    .attr("fill", "#33b5ee");

  // panel caption
  svg.append("text").attr("x", 3).attr("y", p.labelY).attr("font-size", 11).attr("fill", "#000").text(p.label);

  // price axis
  const ax = svg.append("g").attr("transform", `translate(${axisX},0)`)
    .call(d3.axisRight(y).tickValues(priceTicks).tickSize(5).tickPadding(2).tickFormat(fmtPrice));
  ax.select(".domain").remove();
  ax.selectAll("text").attr("font-size", 11).attr("font-family", "Liberation Sans, Arial, sans-serif").attr("fill", "#000");
  ax.selectAll("line").attr("stroke", "#000");

  // price tags
  const tags = pi === 0 ? topTags : bottomTags;
  const tagG = svg.append("g");
  const drawTag = (v, fill, textFill) => {
    const tg = tagG.append("g").attr("transform", `translate(${axisX + 1},${Math.round(y(v)) + 0.5})`);
    tg.append("path").attr("d", "M0,0L6,-6.5H48V6.5H6Z").attr("fill", fill).attr("stroke", "#000").attr("stroke-width", 0.8);
    tg.append("text").attr("x", 8).attr("y", 4).attr("font-size", 11).attr("fill", textFill).text(fmtPrice(v));
  };
  tags.forEach(v => drawTag(v, tagColor, "#000"));
  drawTag(lastPrice, "#000", "#fff");
});

// copyright
svg.append("text").attr("x", 3).attr("y", 946).attr("font-size", 11).attr("fill", "#000").text(copyright);

// time axis
const xa = svg.append("g").attr("transform", "translate(0,949)")
  .call(d3.axisBottom(x).tickValues(timeTicks.map(parseHM)).tickSize(4).tickPadding(4).tickFormat(d3.timeFormat("%H:%M")));
xa.select(".domain").remove();
xa.selectAll("text").attr("font-size", 11).attr("font-family", "Liberation Sans, Arial, sans-serif").attr("fill", "#000");
xa.selectAll("line").attr("stroke", "#000");

// frame and separators
const frame = svg.append("g").attr("stroke", "#000").attr("stroke-width", 1).attr("fill", "none");
frame.append("rect").attr("x", 0.5).attr("y", 26.5).attr("width", width - 1).attr("height", height - 27);
frame.append("line").attr("x1", 0).attr("x2", width).attr("y1", 500.5).attr("y2", 500.5);
frame.append("line").attr("x1", 0).attr("x2", axisX).attr("y1", 949.5).attr("y2", 949.5);
frame.append("line").attr("x1", axisX + 0.5).attr("x2", axisX + 0.5).attr("y1", 27).attr("y2", height);
</script>
</body>
</html>
